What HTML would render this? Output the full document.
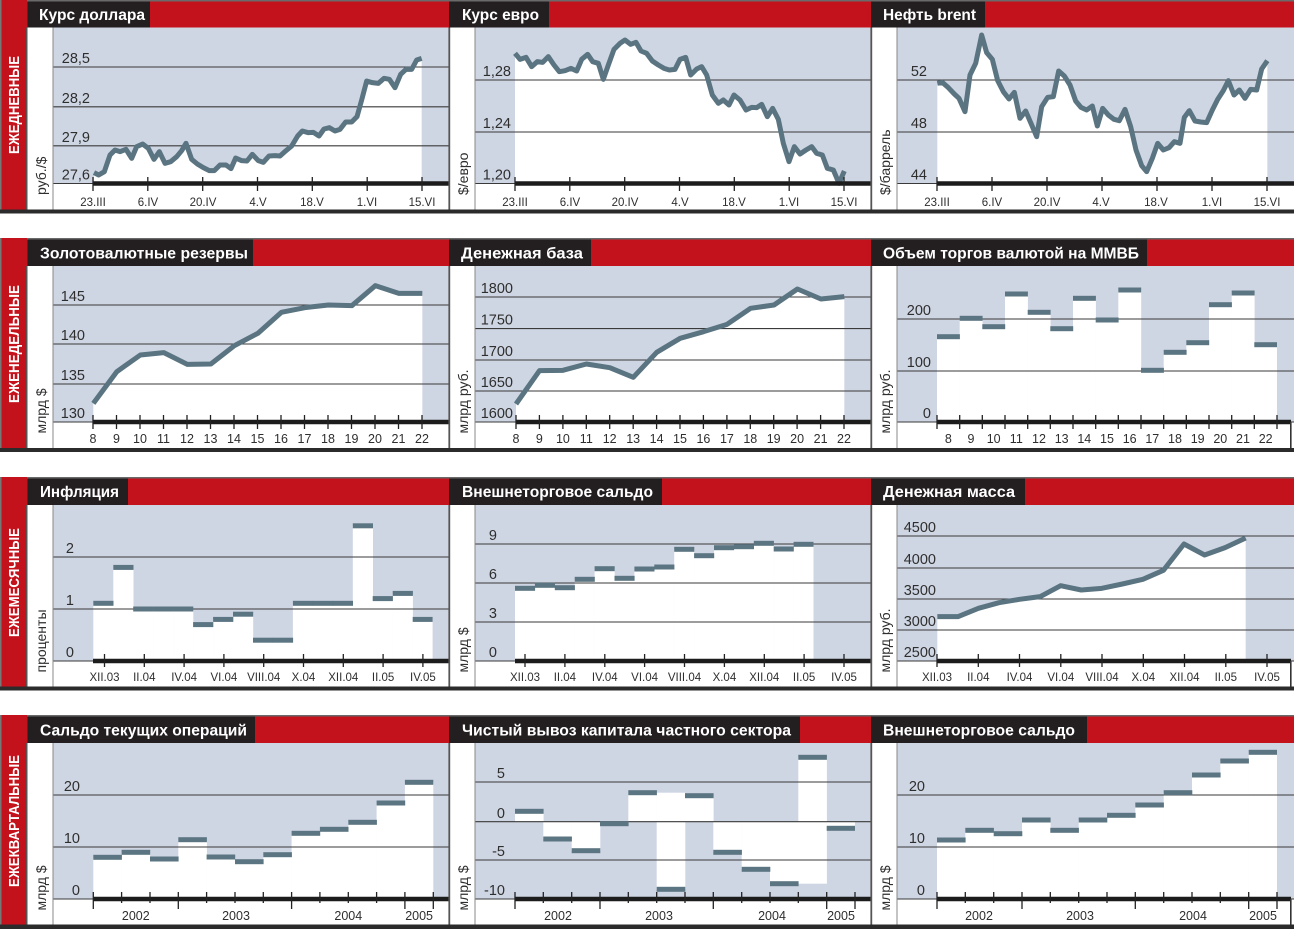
<!DOCTYPE html>
<html><head><meta charset="utf-8">
<style>
html,body{margin:0;padding:0;background:#fff;}
svg{display:block;}
.t{font-family:"Liberation Sans",Arial,sans-serif;font-weight:bold;font-size:15.5px;fill:#fff;}
.c{font-family:"Liberation Sans",Arial,sans-serif;font-weight:bold;font-size:15px;fill:#fff;}
.y{font-family:"Liberation Sans",Arial,sans-serif;font-size:14.5px;fill:#2e2e2e;text-anchor:end;}
.x{font-family:"Liberation Sans",Arial,sans-serif;font-size:11.5px;fill:#2e2e2e;text-anchor:middle;}
.xn{font-family:"Liberation Sans",Arial,sans-serif;font-size:12.5px;fill:#2e2e2e;text-anchor:middle;}
.u{font-family:"Liberation Sans",Arial,sans-serif;font-size:14px;fill:#2e2e2e;}
.g{stroke:#3a3a3a;stroke-width:1.1;fill:none;}
.tk{stroke:#222;stroke-width:1.3;fill:none;}
.ln{fill:none;stroke:#5a7481;stroke-width:15;stroke-linejoin:round;}
.wf{fill:#fff;}
.mk{fill:#5b7582;}
.bl{fill:#cfd6e3;}
</style></head>
<body>
<svg width="1294" height="929" viewBox="0 0 1294 929" xmlns="http://www.w3.org/2000/svg">

<!-- ================= ROW 1 ================= -->
<rect class="bl" x="53" y="27.5" width="395.5" height="156"/>
<rect class="bl" x="475" y="27.5" width="395.5" height="156"/>
<rect class="bl" x="897" y="27.5" width="397" height="156"/>

<!-- P1 Курс доллара -->
<g transform="scale(0.333333)">
<polygon class="wf" points="282,518 296,525 313,515 330,465 345,450 360,455 378,448 395,475 410,440 428,432 445,445 462,478 478,455 495,490 512,485 530,470 545,452 558,430 575,478 592,492 610,503 628,512 643,512 660,495 678,495 693,506 707,474 725,482 741,483 757,463 775,482 790,487 807,468 825,467 840,468 858,452 875,438 893,408 907,393 925,398 940,397 957,408 972,387 988,383 1005,393 1020,388 1037,366 1055,366 1071,350 1085,300 1100,243 1117,248 1135,250 1152,235 1168,238 1185,263 1202,223 1218,208 1235,208 1250,180 1265,175 1265,550 282,550"/>
</g>
<path class="g" d="M53 67H448.5M53 106.8H448.5M53 145.8H448.5M53 183.5H448.5"/>
<g transform="scale(0.333333)">
<polyline class="ln" points="282,518 296,525 313,515 330,465 345,450 360,455 378,448 395,475 410,440 428,432 445,445 462,478 478,455 495,490 512,485 530,470 545,452 558,430 575,478 592,492 610,503 628,512 643,512 660,495 678,495 693,506 707,474 725,482 741,483 757,463 775,482 790,487 807,468 825,467 840,468 858,452 875,438 893,408 907,393 925,398 940,397 957,408 972,387 988,383 1005,393 1020,388 1037,366 1055,366 1071,350 1085,300 1100,243 1117,248 1135,250 1152,235 1168,238 1185,263 1202,223 1218,208 1235,208 1250,180 1265,175"/>
</g>
<text class="y" x="90" y="63">28,5</text>
<text class="y" x="90" y="102.8">28,2</text>
<text class="y" x="90" y="141.8">27,9</text>
<text class="y" x="90" y="179.5">27,6</text>
<rect x="93" y="181.25" width="355.5" height="4.5" fill="#1c1c1c"/>
<path class="tk" d="M93 177V191M147.8 177V191M202.7 177V191M257.5 177V191M312.3 177V191M367.2 177V191M422 177V191"/>
<text class="x" x="93" y="206">23.III</text>
<text class="x" x="148" y="206">6.IV</text>
<text class="x" x="203" y="206">20.IV</text>
<text class="x" x="258" y="206">4.V</text>
<text class="x" x="312" y="206">18.V</text>
<text class="x" x="367" y="206">1.VI</text>
<text class="x" x="422" y="206">15.VI</text>
<text class="u" transform="translate(46,195) rotate(-90)">руб./$</text>

<!-- P2 Курс евро -->
<g transform="translate(440,0) scale(0.333333)">
<polygon class="wf" points="225,160 240,178 258,172 275,200 292,185 308,187 325,170 342,195 358,215 375,212 393,205 410,213 425,178 443,163 458,185 475,190 490,238 505,195 522,148 540,130 555,120 572,133 588,127 603,153 620,160 637,183 655,195 672,205 688,210 705,208 720,178 737,172 752,225 770,207 785,200 800,225 817,285 835,310 850,300 867,315 882,285 900,300 918,330 935,322 950,323 965,313 982,350 998,325 1015,358 1030,430 1047,485 1063,440 1080,462 1098,450 1115,440 1130,460 1147,465 1162,505 1180,510 1197,550 1213,513 1213,550 225,550"/>
</g>
<path class="g" d="M475 80H870.5M475 132H870.5M475 183.5H870.5"/>
<g transform="translate(440,0) scale(0.333333)">
<polyline class="ln" points="225,160 240,178 258,172 275,200 292,185 308,187 325,170 342,195 358,215 375,212 393,205 410,213 425,178 443,163 458,185 475,190 490,238 505,195 522,148 540,130 555,120 572,133 588,127 603,153 620,160 637,183 655,195 672,205 688,210 705,208 720,178 737,172 752,225 770,207 785,200 800,225 817,285 835,310 850,300 867,315 882,285 900,300 918,330 935,322 950,323 965,313 982,350 998,325 1015,358 1030,430 1047,485 1063,440 1080,462 1098,450 1115,440 1130,460 1147,465 1162,505 1180,510 1197,550 1213,513"/>
</g>
<text class="y" x="511" y="76">1,28</text>
<text class="y" x="511" y="128">1,24</text>
<text class="y" x="511" y="179.5">1,20</text>
<rect x="515" y="181.25" width="355.5" height="4.5" fill="#1c1c1c"/>
<path class="tk" d="M515 177V191M569.8 177V191M624.7 177V191M679.5 177V191M734.3 177V191M789.2 177V191M844 177V191"/>
<text class="x" x="515" y="206">23.III</text>
<text class="x" x="570" y="206">6.IV</text>
<text class="x" x="625" y="206">20.IV</text>
<text class="x" x="680" y="206">4.V</text>
<text class="x" x="734" y="206">18.V</text>
<text class="x" x="789" y="206">1.VI</text>
<text class="x" x="844" y="206">15.VI</text>
<text class="u" transform="translate(468,195) rotate(-90)">$/евро</text>

<!-- P3 Нефть brent -->
<g transform="translate(860,0) scale(0.333333)">
<polygon class="wf" points="232,250 247,247 265,263 283,282 297,295 315,335 330,225 347,190 365,105 380,158 397,178 413,242 430,275 447,297 463,277 480,355 497,333 513,370 530,410 545,320 563,292 580,290 596,213 613,228 630,255 647,303 663,322 680,330 697,318 712,378 728,325 745,345 762,358 778,362 795,328 812,380 828,450 845,497 860,515 877,475 893,430 910,450 927,443 943,425 960,430 973,352 988,332 1005,363 1022,366 1040,368 1057,330 1073,298 1090,272 1105,242 1122,285 1138,270 1155,295 1172,268 1190,270 1205,207 1222,182 1222,550 232,550"/>
</g>
<path class="g" d="M897 80H1294M897 132H1294M897 183.5H1294"/>
<g transform="translate(860,0) scale(0.333333)">
<polyline class="ln" points="232,250 247,247 265,263 283,282 297,295 315,335 330,225 347,190 365,105 380,158 397,178 413,242 430,275 447,297 463,277 480,355 497,333 513,370 530,410 545,320 563,292 580,290 596,213 613,228 630,255 647,303 663,322 680,330 697,318 712,378 728,325 745,345 762,358 778,362 795,328 812,380 828,450 845,497 860,515 877,475 893,430 910,450 927,443 943,425 960,430 973,352 988,332 1005,363 1022,366 1040,368 1057,330 1073,298 1090,272 1105,242 1122,285 1138,270 1155,295 1172,268 1190,270 1205,207 1222,182"/>
</g>
<text class="y" x="927" y="76">52</text>
<text class="y" x="927" y="128">48</text>
<text class="y" x="927" y="179.5">44</text>
<rect x="937" y="181.25" width="357" height="4.5" fill="#1c1c1c"/>
<path class="tk" d="M937 177V191M992 177V191M1047 177V191M1102 177V191M1157 177V191M1212 177V191M1267 177V191"/>
<text class="x" x="937" y="206">23.III</text>
<text class="x" x="992" y="206">6.IV</text>
<text class="x" x="1047" y="206">20.IV</text>
<text class="x" x="1101" y="206">4.V</text>
<text class="x" x="1156" y="206">18.V</text>
<text class="x" x="1212" y="206">1.VI</text>
<text class="x" x="1267" y="206">15.VI</text>
<text class="u" transform="translate(890,195) rotate(-90)">$/баррель</text>

<!-- Row 1 frame -->
<rect x="0" y="0" width="1294" height="1.5" fill="#6a6a6a"/>
<rect x="0" y="1.5" width="1294" height="26" fill="#c4121c"/>
<rect x="0" y="0" width="27" height="209.5" fill="#c4121c"/>
<rect x="0" y="0" width="1.5" height="209.5" fill="#777"/>
<rect x="26" y="27.5" width="1.5" height="182" fill="#555"/>
<rect x="27.5" y="1.5" width="122.5" height="26" fill="#231f20"/>
<rect x="449" y="1.5" width="100" height="26" fill="#231f20"/>
<rect x="871" y="1.5" width="114" height="26" fill="#231f20"/>
<text class="t" x="39" y="20" textLength="106" lengthAdjust="spacingAndGlyphs">Курс доллара</text>
<text class="t" x="462" y="20" textLength="77" lengthAdjust="spacingAndGlyphs">Курс евро</text>
<text class="t" x="883" y="20" textLength="93" lengthAdjust="spacingAndGlyphs">Нефть brent</text>
<rect x="448.4" y="27.5" width="1.8" height="182" fill="#555"/>
<rect x="870.4" y="27.5" width="1.8" height="182" fill="#555"/>
<path d="M53 27.5V209.5M475 27.5V209.5M897 27.5V209.5" stroke="#888" stroke-width="1"/>
<rect x="0" y="209.5" width="1294" height="4" fill="#2b2b2b"/>
<text class="c" transform="translate(19,105) rotate(-90)" text-anchor="middle" textLength="98" lengthAdjust="spacingAndGlyphs">ЕЖЕДНЕВНЫЕ</text>

<!-- ================= ROW 2 ================= -->
<rect class="bl" x="53" y="266" width="395.5" height="156"/>
<rect class="bl" x="475" y="266" width="395.5" height="156"/>
<rect class="bl" x="897" y="266" width="397" height="156"/>

<!-- P1 Золотовалютные резервы -->
<g transform="translate(0,225) scale(0.333333)">
<polygon class="wf" points="280,535 350.5,440 421,390 491.5,383 562,418 632.5,417 703,362 773.5,325 844,262 914.5,248 985,240 1055.5,242 1126,182 1196.5,205 1267,205 1267,591 280,591"/>
</g>
<path class="g" d="M53 305H448.5M53 344H448.5M53 384H448.5M53 422H448.5"/>
<g transform="translate(0,225) scale(0.333333)">
<polyline class="ln" points="280,535 350.5,440 421,390 491.5,383 562,418 632.5,417 703,362 773.5,325 844,262 914.5,248 985,240 1055.5,242 1126,182 1196.5,205 1267,205"/>
</g>
<text class="y" x="85" y="301">145</text>
<text class="y" x="85" y="340">140</text>
<text class="y" x="85" y="380">135</text>
<text class="y" x="85" y="418">130</text>
<rect x="93" y="419.75" width="355.5" height="4.5" fill="#1c1c1c"/>
<path class="tk" d="M93 415V429M116.5 415V429M140 415V429M163.5 415V429M187 415V429M210.5 415V429M234 415V429M257.5 415V429M281 415V429M304.5 415V429M328 415V429M351.5 415V429M375 415V429M398.5 415V429M422 415V429"/>
<text class="xn" x="93" y="443">8</text>
<text class="xn" x="116.5" y="443">9</text>
<text class="xn" x="140" y="443">10</text>
<text class="xn" x="163.5" y="443">11</text>
<text class="xn" x="187" y="443">12</text>
<text class="xn" x="210.5" y="443">13</text>
<text class="xn" x="234" y="443">14</text>
<text class="xn" x="257.5" y="443">15</text>
<text class="xn" x="281" y="443">16</text>
<text class="xn" x="304.5" y="443">17</text>
<text class="xn" x="328" y="443">18</text>
<text class="xn" x="351.5" y="443">19</text>
<text class="xn" x="375" y="443">20</text>
<text class="xn" x="398.5" y="443">21</text>
<text class="xn" x="422" y="443">22</text>
<text class="u" transform="translate(46,433.5) rotate(-90)">млрд $</text>

<!-- P2 Денежная база -->
<g transform="translate(440,225) scale(0.333333)">
<polygon class="wf" points="228,537 298.4,437 368.7,436 439.1,417 509.4,428 579.8,457 650.2,382 720.5,340 790.9,320 861.2,298 931.6,250 1002,240 1072.3,192 1142.7,222 1213,215 1213,591 228,591"/>
</g>
<path class="g" d="M475 297H870.5M475 328.6H870.5M475 360H870.5M475 391H870.5M475 422H870.5"/>
<g transform="translate(440,225) scale(0.333333)">
<polyline class="ln" points="228,537 298.4,437 368.7,436 439.1,417 509.4,428 579.8,457 650.2,382 720.5,340 790.9,320 861.2,298 931.6,250 1002,240 1072.3,192 1142.7,222 1213,215"/>
</g>
<text class="y" x="513" y="293">1800</text>
<text class="y" x="513" y="324.6">1750</text>
<text class="y" x="513" y="356">1700</text>
<text class="y" x="513" y="387">1650</text>
<text class="y" x="513" y="418">1600</text>
<rect x="516" y="419.75" width="354.5" height="4.5" fill="#1c1c1c"/>
<path class="tk" d="M516 415V429M539.4 415V429M562.9 415V429M586.3 415V429M609.7 415V429M633.2 415V429M656.6 415V429M680 415V429M703.4 415V429M726.9 415V429M750.3 415V429M773.7 415V429M797.1 415V429M820.6 415V429M844 415V429"/>
<text class="xn" x="516" y="443">8</text>
<text class="xn" x="539.4" y="443">9</text>
<text class="xn" x="562.9" y="443">10</text>
<text class="xn" x="586.3" y="443">11</text>
<text class="xn" x="609.7" y="443">12</text>
<text class="xn" x="633.2" y="443">13</text>
<text class="xn" x="656.6" y="443">14</text>
<text class="xn" x="680" y="443">15</text>
<text class="xn" x="703.4" y="443">16</text>
<text class="xn" x="726.9" y="443">17</text>
<text class="xn" x="750.3" y="443">18</text>
<text class="xn" x="773.7" y="443">19</text>
<text class="xn" x="797.1" y="443">20</text>
<text class="xn" x="820.6" y="443">21</text>
<text class="xn" x="844" y="443">22</text>
<text class="u" transform="translate(468,433.5) rotate(-90)">млрд руб.</text>

<!-- P3 Объем торгов -->
<g class="wf">
<rect x="937" y="336.7" width="22.9" height="85.3"/>
<rect x="959.7" y="318.3" width="22.9" height="103.7"/>
<rect x="982.3" y="326.7" width="22.9" height="95.3"/>
<rect x="1005" y="294" width="22.9" height="128"/>
<rect x="1027.7" y="312.3" width="22.9" height="109.7"/>
<rect x="1050.3" y="328.7" width="22.9" height="93.3"/>
<rect x="1073" y="298.3" width="22.9" height="123.7"/>
<rect x="1095.7" y="320" width="22.9" height="102"/>
<rect x="1118.3" y="290" width="22.9" height="132"/>
<rect x="1141" y="370.3" width="22.9" height="51.7"/>
<rect x="1163.7" y="352.3" width="22.9" height="69.7"/>
<rect x="1186.3" y="342.7" width="22.9" height="79.3"/>
<rect x="1209" y="304.7" width="22.9" height="117.3"/>
<rect x="1231.7" y="293" width="22.9" height="129"/>
<rect x="1254.3" y="344.7" width="22.7" height="77.3"/>
</g>
<path class="g" d="M897 319H1294M897 371H1294M897 422H1294"/>
<g class="mk">
<rect x="937" y="334.2" width="22.9" height="5"/>
<rect x="959.7" y="315.8" width="22.9" height="5"/>
<rect x="982.3" y="324.2" width="22.9" height="5"/>
<rect x="1005" y="291.5" width="22.9" height="5"/>
<rect x="1027.7" y="309.8" width="22.9" height="5"/>
<rect x="1050.3" y="326.2" width="22.9" height="5"/>
<rect x="1073" y="295.8" width="22.9" height="5"/>
<rect x="1095.7" y="317.5" width="22.9" height="5"/>
<rect x="1118.3" y="287.5" width="22.9" height="5"/>
<rect x="1141" y="367.8" width="22.9" height="5"/>
<rect x="1163.7" y="349.8" width="22.9" height="5"/>
<rect x="1186.3" y="340.2" width="22.9" height="5"/>
<rect x="1209" y="302.2" width="22.9" height="5"/>
<rect x="1231.7" y="290.5" width="22.9" height="5"/>
<rect x="1254.3" y="342.2" width="22.7" height="5"/>
</g>
<text class="y" x="931" y="315">200</text>
<text class="y" x="931" y="367">100</text>
<text class="y" x="931" y="418">0</text>
<rect x="937" y="419.75" width="354" height="4.5" fill="#1c1c1c"/>
<path class="tk" d="M937 415V429M959.7 415V429M982.3 415V429M1005 415V429M1027.7 415V429M1050.3 415V429M1073 415V429M1095.7 415V429M1118.3 415V429M1141 415V429M1163.7 415V429M1186.3 415V429M1209 415V429M1231.7 415V429M1254.3 415V429M1277 415V429"/>
<text class="xn" x="948.3" y="443">8</text>
<text class="xn" x="971" y="443">9</text>
<text class="xn" x="993.7" y="443">10</text>
<text class="xn" x="1016.3" y="443">11</text>
<text class="xn" x="1039" y="443">12</text>
<text class="xn" x="1061.7" y="443">13</text>
<text class="xn" x="1084.3" y="443">14</text>
<text class="xn" x="1107" y="443">15</text>
<text class="xn" x="1129.7" y="443">16</text>
<text class="xn" x="1152.3" y="443">17</text>
<text class="xn" x="1175" y="443">18</text>
<text class="xn" x="1197.7" y="443">19</text>
<text class="xn" x="1220.3" y="443">20</text>
<text class="xn" x="1243" y="443">21</text>
<text class="xn" x="1265.7" y="443">22</text>
<text class="u" transform="translate(890,433.5) rotate(-90)">млрд руб.</text>
<rect x="1290" y="422" width="1.6" height="26" fill="#333"/>

<!-- Row 2 frame -->
<rect x="0" y="238" width="1294" height="1.5" fill="#6a6a6a"/>
<rect x="0" y="239.5" width="1294" height="26.5" fill="#c4121c"/>
<rect x="0" y="238" width="27" height="210" fill="#c4121c"/>
<rect x="0" y="238" width="1.5" height="210" fill="#777"/>
<rect x="26" y="266" width="1.5" height="182" fill="#555"/>
<rect x="27.5" y="239.5" width="225.5" height="26.5" fill="#231f20"/>
<rect x="449" y="239.5" width="142" height="26.5" fill="#231f20"/>
<rect x="871" y="239.5" width="276" height="26.5" fill="#231f20"/>
<text class="t" x="40" y="258.3" textLength="208" lengthAdjust="spacingAndGlyphs">Золотовалютные резервы</text>
<text class="t" x="461" y="258.3" textLength="122" lengthAdjust="spacingAndGlyphs">Денежная база</text>
<text class="t" x="883" y="258.3" textLength="256" lengthAdjust="spacingAndGlyphs">Объем торгов валютой на ММВБ</text>
<rect x="448.4" y="266" width="1.8" height="182" fill="#555"/>
<rect x="870.4" y="266" width="1.8" height="182" fill="#555"/>
<path d="M53 266V448M475 266V448M897 266V448" stroke="#888" stroke-width="1"/>
<rect x="0" y="448" width="1294" height="4" fill="#2b2b2b"/>
<text class="c" transform="translate(19,344) rotate(-90)" text-anchor="middle" textLength="118" lengthAdjust="spacingAndGlyphs">ЕЖЕНЕДЕЛЬНЫЕ</text>

<!-- ================= ROW 3 ================= -->
<rect class="bl" x="53" y="505" width="395.5" height="156"/>
<rect class="bl" x="475" y="505" width="395.5" height="156"/>
<rect class="bl" x="897" y="505" width="397" height="156"/>

<!-- P1 Инфляция -->
<g class="wf">
<rect x="93.3" y="603.3" width="20.2" height="57.7"/>
<rect x="113.3" y="567.4" width="20.2" height="93.6"/>
<rect x="133.2" y="609" width="20.2" height="52"/>
<rect x="153.2" y="609" width="20.2" height="52"/>
<rect x="173.1" y="609" width="20.2" height="52"/>
<rect x="193.1" y="624.6" width="20.2" height="36.4"/>
<rect x="213.1" y="619.4" width="20.2" height="41.6"/>
<rect x="233" y="614.2" width="20.2" height="46.8"/>
<rect x="253" y="640.2" width="20.2" height="20.8"/>
<rect x="272.9" y="640.2" width="20.2" height="20.8"/>
<rect x="292.9" y="603.3" width="20.2" height="57.7"/>
<rect x="312.9" y="603.3" width="20.2" height="57.7"/>
<rect x="332.8" y="603.3" width="20.2" height="57.7"/>
<rect x="352.8" y="525.8" width="20.2" height="135.2"/>
<rect x="372.7" y="598.6" width="20.2" height="62.4"/>
<rect x="392.7" y="593.4" width="20.2" height="67.6"/>
<rect x="412.7" y="619.4" width="19.9" height="41.6"/>
</g>
<path class="g" d="M53 557H448.5M53 609H448.5M53 661H448.5"/>
<g class="mk">
<rect x="93.3" y="600.8" width="20.2" height="5"/>
<rect x="113.3" y="564.9" width="20.2" height="5"/>
<rect x="133.2" y="606.5" width="20.2" height="5"/>
<rect x="153.2" y="606.5" width="20.2" height="5"/>
<rect x="173.1" y="606.5" width="20.2" height="5"/>
<rect x="193.1" y="622.1" width="20.2" height="5"/>
<rect x="213.1" y="616.9" width="20.2" height="5"/>
<rect x="233" y="611.7" width="20.2" height="5"/>
<rect x="253" y="637.7" width="20.2" height="5"/>
<rect x="272.9" y="637.7" width="20.2" height="5"/>
<rect x="292.9" y="600.8" width="20.2" height="5"/>
<rect x="312.9" y="600.8" width="20.2" height="5"/>
<rect x="332.8" y="600.8" width="20.2" height="5"/>
<rect x="352.8" y="523.3" width="20.2" height="5"/>
<rect x="372.7" y="596.1" width="20.2" height="5"/>
<rect x="392.7" y="590.9" width="20.2" height="5"/>
<rect x="412.7" y="616.9" width="19.9" height="5"/>
</g>
<text class="y" x="74" y="553">2</text>
<text class="y" x="74" y="605">1</text>
<text class="y" x="74" y="657">0</text>
<rect x="93" y="658.75" width="355.5" height="4.5" fill="#1c1c1c"/>
<path class="tk" d="M104.5 654V667M144.3 654V667M184.1 654V667M223.9 654V667M263.7 654V667M303.5 654V667M343.3 654V667M383.1 654V667M422.9 654V667"/>
<text class="x" x="104.5" y="681">XII.03</text>
<text class="x" x="144.3" y="681">II.04</text>
<text class="x" x="184.1" y="681">IV.04</text>
<text class="x" x="223.9" y="681">VI.04</text>
<text class="x" x="263.7" y="681">VIII.04</text>
<text class="x" x="303.5" y="681">X.04</text>
<text class="x" x="343.3" y="681">XII.04</text>
<text class="x" x="383.1" y="681">II.05</text>
<text class="x" x="422.9" y="681">IV.05</text>
<text class="u" transform="translate(46,672.5) rotate(-90)">проценты</text>

<!-- P2 Внешнеторговое сальдо (monthly) -->
<g class="wf">
<rect x="515" y="588.3" width="20.1" height="72.7"/>
<rect x="534.9" y="585.3" width="20.1" height="75.7"/>
<rect x="554.8" y="587.7" width="20.1" height="73.3"/>
<rect x="574.7" y="579.3" width="20.1" height="81.7"/>
<rect x="594.6" y="568.7" width="20.1" height="92.3"/>
<rect x="614.5" y="578.3" width="20.1" height="82.7"/>
<rect x="634.4" y="569" width="20.1" height="92"/>
<rect x="654.3" y="567" width="20.1" height="94"/>
<rect x="674.2" y="549.3" width="20.1" height="111.7"/>
<rect x="694.1" y="555.7" width="20.1" height="105.3"/>
<rect x="714" y="547.7" width="20.1" height="113.3"/>
<rect x="733.9" y="546.7" width="20.1" height="114.3"/>
<rect x="753.8" y="543.3" width="20.1" height="117.7"/>
<rect x="773.7" y="549" width="20.1" height="112"/>
<rect x="793.6" y="544.3" width="19.9" height="116.7"/>
</g>
<path class="g" d="M475 544H870.5M475 583H870.5M475 622H870.5M475 661H870.5"/>
<g class="mk">
<rect x="515" y="585.8" width="20.1" height="5"/>
<rect x="534.9" y="582.8" width="20.1" height="5"/>
<rect x="554.8" y="585.2" width="20.1" height="5"/>
<rect x="574.7" y="576.8" width="20.1" height="5"/>
<rect x="594.6" y="566.2" width="20.1" height="5"/>
<rect x="614.5" y="575.8" width="20.1" height="5"/>
<rect x="634.4" y="566.5" width="20.1" height="5"/>
<rect x="654.3" y="564.5" width="20.1" height="5"/>
<rect x="674.2" y="546.8" width="20.1" height="5"/>
<rect x="694.1" y="553.2" width="20.1" height="5"/>
<rect x="714" y="545.2" width="20.1" height="5"/>
<rect x="733.9" y="544.2" width="20.1" height="5"/>
<rect x="753.8" y="540.8" width="20.1" height="5"/>
<rect x="773.7" y="546.5" width="20.1" height="5"/>
<rect x="793.6" y="541.8" width="19.9" height="5"/>
</g>
<text class="y" x="497" y="540">9</text>
<text class="y" x="497" y="579">6</text>
<text class="y" x="497" y="618">3</text>
<text class="y" x="497" y="657">0</text>
<rect x="515" y="658.75" width="355.5" height="4.5" fill="#1c1c1c"/>
<path class="tk" d="M525 654V667M564.9 654V667M604.8 654V667M644.6 654V667M684.5 654V667M724.4 654V667M764.3 654V667M804.1 654V667M844 654V667"/>
<text class="x" x="525" y="681">XII.03</text>
<text class="x" x="564.9" y="681">II.04</text>
<text class="x" x="604.8" y="681">IV.04</text>
<text class="x" x="644.6" y="681">VI.04</text>
<text class="x" x="684.5" y="681">VIII.04</text>
<text class="x" x="724.4" y="681">X.04</text>
<text class="x" x="764.3" y="681">XII.04</text>
<text class="x" x="804.1" y="681">II.05</text>
<text class="x" x="844" y="681">IV.05</text>
<text class="u" transform="translate(468,672.5) rotate(-90)">млрд $</text>

<!-- P3 Денежная масса -->
<g transform="translate(860,465) scale(0.333333)">
<polygon class="wf" points="232,455 293.7,455 355.3,430 417,413 478.7,403 540.3,395 602,362 663.7,375 725.3,370 787,357 848.7,343 910.3,316 972,237 1033.7,270 1095.3,248 1157,219 1157,588 232,588"/>
</g>
<path class="g" d="M897 536H1294M897 568H1294M897 599H1294M897 630H1294M897 661H1294"/>
<g transform="translate(860,465) scale(0.333333)">
<polyline class="ln" points="232,455 293.7,455 355.3,430 417,413 478.7,403 540.3,395 602,362 663.7,375 725.3,370 787,357 848.7,343 910.3,316 972,237 1033.7,270 1095.3,248 1157,219"/>
</g>
<text class="y" x="936" y="532">4500</text>
<text class="y" x="936" y="564">4000</text>
<text class="y" x="936" y="595">3500</text>
<text class="y" x="936" y="626">3000</text>
<text class="y" x="936" y="657">2500</text>
<rect x="937" y="658.75" width="354" height="4.5" fill="#1c1c1c"/>
<path class="tk" d="M937 654V667M978.3 654V667M1019.5 654V667M1060.8 654V667M1102 654V667M1143.3 654V667M1184.5 654V667M1225.8 654V667M1267 654V667"/>
<text class="x" x="937" y="681">XII.03</text>
<text class="x" x="978.3" y="681">II.04</text>
<text class="x" x="1019.5" y="681">IV.04</text>
<text class="x" x="1060.8" y="681">VI.04</text>
<text class="x" x="1102" y="681">VIII.04</text>
<text class="x" x="1143.3" y="681">X.04</text>
<text class="x" x="1184.5" y="681">XII.04</text>
<text class="x" x="1225.8" y="681">II.05</text>
<text class="x" x="1267" y="681">IV.05</text>
<text class="u" transform="translate(890,672.5) rotate(-90)">млрд руб.</text>
<rect x="1290" y="661" width="1.6" height="25.5" fill="#333"/>

<!-- Row 3 frame -->
<rect x="0" y="477" width="1294" height="1.5" fill="#6a6a6a"/>
<rect x="0" y="478.5" width="1294" height="26.5" fill="#c4121c"/>
<rect x="0" y="477" width="27" height="209.5" fill="#c4121c"/>
<rect x="0" y="477" width="1.5" height="209.5" fill="#777"/>
<rect x="26" y="505" width="1.5" height="181.5" fill="#555"/>
<rect x="27.5" y="478.5" width="100.5" height="26.5" fill="#231f20"/>
<rect x="449" y="478.5" width="213" height="26.5" fill="#231f20"/>
<rect x="871" y="478.5" width="154" height="26.5" fill="#231f20"/>
<text class="t" x="40" y="497" textLength="79" lengthAdjust="spacingAndGlyphs">Инфляция</text>
<text class="t" x="462" y="497" textLength="191" lengthAdjust="spacingAndGlyphs">Внешнеторговое сальдо</text>
<text class="t" x="883" y="497" textLength="132" lengthAdjust="spacingAndGlyphs">Денежная масса</text>
<rect x="448.4" y="505" width="1.8" height="181.5" fill="#555"/>
<rect x="870.4" y="505" width="1.8" height="181.5" fill="#555"/>
<path d="M53 505V686.5M475 505V686.5M897 505V686.5" stroke="#888" stroke-width="1"/>
<rect x="0" y="686.5" width="1294" height="4" fill="#2b2b2b"/>
<text class="c" transform="translate(19,582.5) rotate(-90)" text-anchor="middle" textLength="109" lengthAdjust="spacingAndGlyphs">ЕЖЕМЕСЯЧНЫЕ</text>

<!-- ================= ROW 4 ================= -->
<rect class="bl" x="53" y="743" width="395.5" height="156"/>
<rect class="bl" x="475" y="743" width="395.5" height="156"/>
<rect class="bl" x="897" y="743" width="397" height="156"/>

<!-- P1 Сальдо текущих операций -->
<g class="wf">
<rect x="93.3" y="857.3" width="28.6" height="41.7"/>
<rect x="121.6" y="852.3" width="28.6" height="46.7"/>
<rect x="150" y="859" width="28.6" height="40"/>
<rect x="178.3" y="839.7" width="28.6" height="59.3"/>
<rect x="206.6" y="857" width="28.6" height="42"/>
<rect x="235" y="861.7" width="28.6" height="37.3"/>
<rect x="263.3" y="854.7" width="28.6" height="44.3"/>
<rect x="291.6" y="833.3" width="28.6" height="65.7"/>
<rect x="319.9" y="829.3" width="28.6" height="69.7"/>
<rect x="348.3" y="822.3" width="28.6" height="76.7"/>
<rect x="376.6" y="803" width="28.6" height="96"/>
<rect x="404.9" y="782.3" width="28.4" height="116.7"/>
</g>
<path class="g" d="M53 795H448.5M53 847H448.5M53 899H448.5"/>
<g class="mk">
<rect x="93.3" y="854.8" width="28.6" height="5"/>
<rect x="121.6" y="849.8" width="28.6" height="5"/>
<rect x="150" y="856.5" width="28.6" height="5"/>
<rect x="178.3" y="837.2" width="28.6" height="5"/>
<rect x="206.6" y="854.5" width="28.6" height="5"/>
<rect x="235" y="859.2" width="28.6" height="5"/>
<rect x="263.3" y="852.2" width="28.6" height="5"/>
<rect x="291.6" y="830.8" width="28.6" height="5"/>
<rect x="319.9" y="826.8" width="28.6" height="5"/>
<rect x="348.3" y="819.8" width="28.6" height="5"/>
<rect x="376.6" y="800.5" width="28.6" height="5"/>
<rect x="404.9" y="779.8" width="28.4" height="5"/>
</g>
<text class="y" x="80" y="791">20</text>
<text class="y" x="80" y="843">10</text>
<text class="y" x="80" y="895">0</text>
<rect x="93" y="896.75" width="355.5" height="4.5" fill="#1c1c1c"/>
<path class="tk" d="M93.3 892V909M121.6 892V903M150 892V903M178.3 892V909M206.6 892V903M235 892V903M263.3 892V903M291.6 892V909M319.9 892V903M348.3 892V903M376.6 892V903M404.9 892V909M433.3 892V909"/>
<text class="xn" x="135.8" y="920">2002</text>
<text class="xn" x="236" y="920">2003</text>
<text class="xn" x="348.3" y="920">2004</text>
<text class="xn" x="419.1" y="920">2005</text>
<text class="u" transform="translate(46,910.5) rotate(-90)">млрд $</text>

<!-- P2 Чистый вывоз капитала -->
<g class="wf">
<rect x="515" y="811.3" width="28.6" height="10.4"/>
<rect x="543.3" y="821.7" width="28.6" height="17.3"/>
<rect x="571.7" y="821.7" width="28.6" height="29"/>
<rect x="600" y="821.7" width="28.6" height="2"/>
<rect x="628.3" y="792.7" width="28.6" height="29"/>
<rect x="656.7" y="792.7" width="28.6" height="96.6"/>
<rect x="685" y="795.7" width="28.6" height="26"/>
<rect x="713.3" y="821.7" width="28.6" height="30.6"/>
<rect x="741.7" y="821.7" width="28.6" height="47.6"/>
<rect x="770" y="821.7" width="28.6" height="62"/>
<rect x="798.3" y="757.3" width="28.6" height="126.4"/>
<rect x="826.7" y="821.7" width="28.3" height="6.6"/>
</g>
<path class="g" d="M475 782H870.5M475 821.7H870.5M475 860H870.5M475 899H870.5"/>
<g class="mk">
<rect x="515" y="808.8" width="28.6" height="5"/>
<rect x="543.3" y="836.5" width="28.6" height="5"/>
<rect x="571.7" y="848.2" width="28.6" height="5"/>
<rect x="600" y="821.2" width="28.6" height="5"/>
<rect x="628.3" y="790.2" width="28.6" height="5"/>
<rect x="656.7" y="886.8" width="28.6" height="5"/>
<rect x="685" y="793.2" width="28.6" height="5"/>
<rect x="713.3" y="849.8" width="28.6" height="5"/>
<rect x="741.7" y="866.8" width="28.6" height="5"/>
<rect x="770" y="881.2" width="28.6" height="5"/>
<rect x="798.3" y="754.8" width="28.6" height="5"/>
<rect x="826.7" y="825.8" width="28.3" height="5"/>
</g>
<text class="y" x="505" y="778">5</text>
<text class="y" x="505" y="818">0</text>
<text class="y" x="505" y="856">-5</text>
<text class="y" x="505" y="895">-10</text>
<rect x="515" y="896.75" width="355.5" height="4.5" fill="#1c1c1c"/>
<path class="tk" d="M515 892V909M543.3 892V903M571.7 892V903M600 892V909M628.3 892V903M656.7 892V903M685 892V903M713.3 892V909M741.7 892V903M770 892V903M798.3 892V903M826.7 892V909M855 892V909"/>
<text class="xn" x="558" y="920">2002</text>
<text class="xn" x="659" y="920">2003</text>
<text class="xn" x="772" y="920">2004</text>
<text class="xn" x="841" y="920">2005</text>
<text class="u" transform="translate(468,910.5) rotate(-90)">млрд $</text>

<!-- P3 Внешнеторговое сальдо (quarterly) -->
<g class="wf">
<rect x="937" y="840" width="28.6" height="59"/>
<rect x="965.3" y="830.3" width="28.6" height="68.7"/>
<rect x="993.7" y="833.7" width="28.6" height="65.3"/>
<rect x="1022" y="820" width="28.6" height="79"/>
<rect x="1050.3" y="830.3" width="28.6" height="68.7"/>
<rect x="1078.7" y="820" width="28.6" height="79"/>
<rect x="1107" y="815.3" width="28.6" height="83.7"/>
<rect x="1135.3" y="805" width="28.6" height="94"/>
<rect x="1163.7" y="792.7" width="28.6" height="106.3"/>
<rect x="1192" y="775" width="28.6" height="124"/>
<rect x="1220.3" y="761" width="28.6" height="138"/>
<rect x="1248.7" y="752.3" width="28.3" height="146.7"/>
</g>
<path class="g" d="M897 795H1294M897 847H1294M897 899H1294"/>
<g class="mk">
<rect x="937" y="837.5" width="28.6" height="5"/>
<rect x="965.3" y="827.8" width="28.6" height="5"/>
<rect x="993.7" y="831.2" width="28.6" height="5"/>
<rect x="1022" y="817.5" width="28.6" height="5"/>
<rect x="1050.3" y="827.8" width="28.6" height="5"/>
<rect x="1078.7" y="817.5" width="28.6" height="5"/>
<rect x="1107" y="812.8" width="28.6" height="5"/>
<rect x="1135.3" y="802.5" width="28.6" height="5"/>
<rect x="1163.7" y="790.2" width="28.6" height="5"/>
<rect x="1192" y="772.5" width="28.6" height="5"/>
<rect x="1220.3" y="758.5" width="28.6" height="5"/>
<rect x="1248.7" y="749.8" width="28.3" height="5"/>
</g>
<text class="y" x="925" y="791">20</text>
<text class="y" x="925" y="843">10</text>
<text class="y" x="925" y="895">0</text>
<rect x="937" y="896.75" width="354" height="4.5" fill="#1c1c1c"/>
<path class="tk" d="M937 892V909M965.3 892V903M993.7 892V903M1022 892V909M1050.3 892V903M1078.7 892V903M1107 892V903M1135.3 892V909M1163.7 892V903M1192 892V903M1220.3 892V903M1248.7 892V909M1277 892V909"/>
<text class="xn" x="979" y="920">2002</text>
<text class="xn" x="1080" y="920">2003</text>
<text class="xn" x="1193" y="920">2004</text>
<text class="xn" x="1263" y="920">2005</text>
<text class="u" transform="translate(890,910.5) rotate(-90)">млрд $</text>
<rect x="1290" y="899" width="1.6" height="25.5" fill="#333"/>

<!-- Row 4 frame -->
<rect x="0" y="715" width="1294" height="1.5" fill="#6a6a6a"/>
<rect x="0" y="716.5" width="1294" height="26.5" fill="#c4121c"/>
<rect x="0" y="715" width="27" height="209.5" fill="#c4121c"/>
<rect x="0" y="715" width="1.5" height="209.5" fill="#777"/>
<rect x="26" y="743" width="1.5" height="181.5" fill="#555"/>
<rect x="27.5" y="716.5" width="227.5" height="26.5" fill="#231f20"/>
<rect x="449" y="716.5" width="351" height="26.5" fill="#231f20"/>
<rect x="871" y="716.5" width="216" height="26.5" fill="#231f20"/>
<text class="t" x="40" y="735.5" textLength="207" lengthAdjust="spacingAndGlyphs">Сальдо текущих операций</text>
<text class="t" x="462" y="735.5" textLength="329" lengthAdjust="spacingAndGlyphs">Чистый вывоз капитала частного сектора</text>
<text class="t" x="883" y="735.5" textLength="192" lengthAdjust="spacingAndGlyphs">Внешнеторговое сальдо</text>
<rect x="448.4" y="743" width="1.8" height="181.5" fill="#555"/>
<rect x="870.4" y="743" width="1.8" height="181.5" fill="#555"/>
<path d="M53 743V924.5M475 743V924.5M897 743V924.5" stroke="#888" stroke-width="1"/>
<rect x="0" y="924.5" width="1294" height="4.5" fill="#2b2b2b"/>
<text class="c" transform="translate(19,821) rotate(-90)" text-anchor="middle" textLength="132" lengthAdjust="spacingAndGlyphs">ЕЖЕКВАРТАЛЬНЫЕ</text>

</svg>
</body></html>
